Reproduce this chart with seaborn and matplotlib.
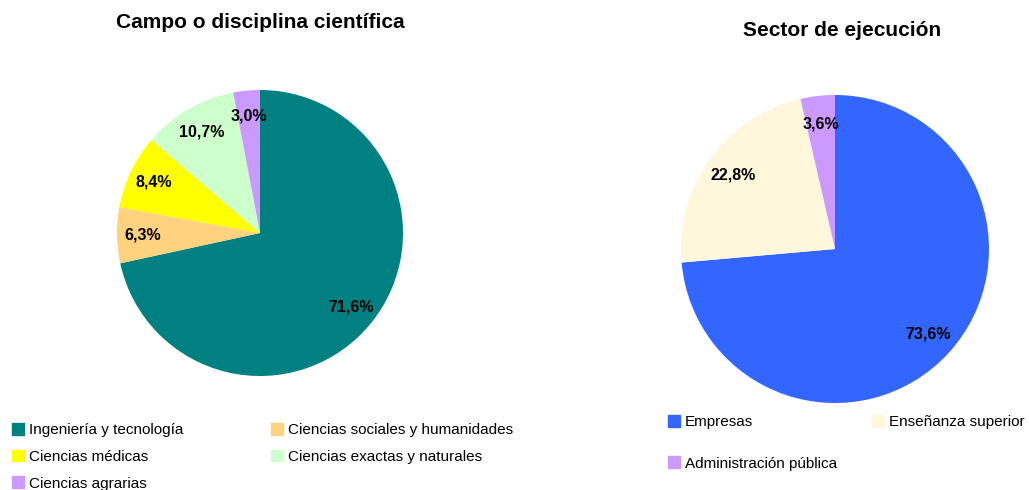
import matplotlib
matplotlib.use("Agg")
import matplotlib.pyplot as plt
import matplotlib.patches as mpatches
import seaborn as sns

# --- Datos ---
campos = ["Ingeniería y tecnología", "Ciencias sociales y humanidades",
          "Ciencias médicas", "Ciencias exactas y naturales", "Ciencias agrarias"]
campos_pct = [71.6, 6.3, 8.4, 10.7, 3.0]
campos_col = ["#008080", "#FFD27F", "#FFFF00", "#CCFFCC", "#CC99FF"]

sectores = ["Empresas", "Enseñanza superior", "Administración pública"]
sectores_pct = [73.6, 22.8, 3.6]
sectores_col = ["#3366FF", "#FFF7DC", "#CC99FF"]

sns.set_theme(style="white")
plt.rcParams['font.family'] = ['Liberation Sans', 'DejaVu Sans']
plt.rcParams['text.color'] = 'black'

fig = plt.figure(figsize=(10.29, 4.90), dpi=100)
W, H = 1029, 490


def pie_axes(cx, cy, r):
    return fig.add_axes([(cx - r) / W, (H - cy - r) / H, 2 * r / W, 2 * r / H])


def fmt(p):
    return f"{p:.1f}%".replace(".", ",")


def dibujar(ax, vals, cols):
    ax.pie(vals, colors=cols, startangle=90, counterclock=False, radius=1,
           autopct=fmt, pctdistance=0.82,
           textprops=dict(fontsize=11.5, fontweight="bold", color="black"),
           wedgeprops=dict(linewidth=0))
    ax.set_xlim(-1, 1)
    ax.set_ylim(-1, 1)
    ax.set_aspect("equal")
    ax.axis("off")


ax1 = pie_axes(260, 233, 143)
dibujar(ax1, campos_pct, campos_col)
ax2 = pie_axes(835, 249, 154)
dibujar(ax2, sectores_pct, sectores_col)

fig.text(260 / W, 1 - 22 / H, "Campo o disciplina científica", ha="center", va="center",
         fontsize=15, fontweight="bold", color="black")
fig.text(842 / W, 1 - 30 / H, "Sector de ejecución", ha="center", va="center",
         fontsize=15, fontweight="bold", color="black")

# --- Leyendas ---
h1 = [mpatches.Patch(color=c, label=l) for l, c in zip(campos, campos_col)]
orden1 = [0, 2, 4, 1, 3]
fig.legend([h1[i] for i in orden1], [campos[i] for i in orden1], ncol=2,
           loc="upper left", bbox_to_anchor=(12 / W, 1 - 423 / H), frameon=False,
           fontsize=11, handlelength=0.8, handleheight=0.8, handletextpad=0.3,
           labelspacing=0.82, columnspacing=5.75, borderpad=0, borderaxespad=0)

h2 = [mpatches.Patch(color=c, label=l) for l, c in zip(sectores, sectores_col)]
orden2 = [0, 2, 1]
fig.legend([h2[i] for i in orden2], [sectores[i] for i in orden2], ncol=2,
           loc="upper left", bbox_to_anchor=(668 / W, 1 - 415 / H), frameon=False,
           fontsize=11, handlelength=0.8, handleheight=0.8, handletextpad=0.3,
           labelspacing=1.78, columnspacing=2.3, borderpad=0, borderaxespad=0)

fig.savefig("out.png", dpi=100)
